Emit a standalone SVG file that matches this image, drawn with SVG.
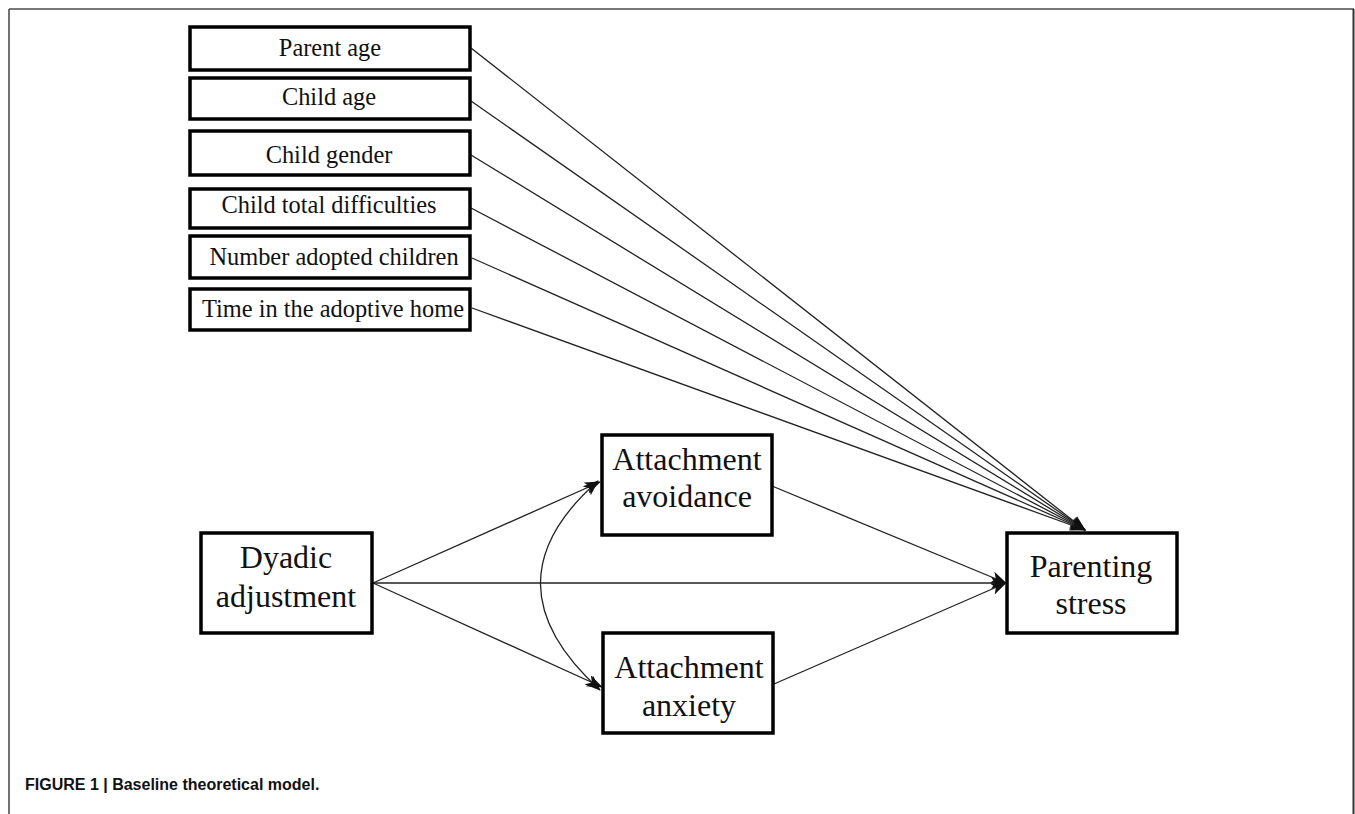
<svg xmlns="http://www.w3.org/2000/svg" width="1355" height="814" viewBox="0 0 1355 814">
<style>
.box{fill:#fff;stroke:#000;stroke-width:3.5}
.lbl{font-family:"Liberation Serif","Times New Roman",serif;fill:#111;text-anchor:middle}
.sm{font-size:24.4px}
.bg{font-size:32px}
.ln{fill:none;stroke:#222;stroke-width:1.3}
.cap{font-family:"Liberation Sans",Arial,sans-serif;font-weight:bold;font-size:16px;fill:#111}
</style>
<defs>
<marker id="ah" viewBox="0 0 16 12" refX="15" refY="6" markerWidth="16" markerHeight="12" markerUnits="userSpaceOnUse" orient="auto-start-reverse">
<path d="M0,0 L16,6 L0,12 L4,6 Z" fill="#111"/>
</marker>
</defs>
<rect x="0" y="0" width="1355" height="814" fill="#fff"/>
<g id="frame">
<line x1="9" y1="9" x2="1354" y2="9" stroke="#777" stroke-width="2"/>
<line x1="9" y1="9" x2="9" y2="814" stroke="#444" stroke-width="1.5"/>
<line x1="1353.5" y1="9" x2="1353.5" y2="814" stroke="#333" stroke-width="2"/>
</g>
<g id="connectors">
<line class="ln" x1="471" y1="48" x2="1085" y2="530" marker-end="url(#ah)"/>
<line class="ln" x1="471" y1="101" x2="1085" y2="530" marker-end="url(#ah)"/>
<line class="ln" x1="471" y1="155" x2="1085" y2="530" marker-end="url(#ah)"/>
<line class="ln" x1="471" y1="208" x2="1085" y2="530" marker-end="url(#ah)"/>
<line class="ln" x1="472" y1="258" x2="1085" y2="530" marker-end="url(#ah)"/>
<line class="ln" x1="472" y1="308" x2="1085" y2="530" marker-end="url(#ah)"/>
<line class="ln" x1="373" y1="583" x2="600" y2="482" marker-end="url(#ah)"/>
<line class="ln" x1="373" y1="583" x2="602" y2="687" marker-end="url(#ah)"/>
<line class="ln" x1="373" y1="583" x2="1006" y2="583" marker-end="url(#ah)"/>
<line class="ln" x1="772" y1="486" x2="1006" y2="583" marker-end="url(#ah)"/>
<line class="ln" x1="774" y1="684" x2="1006" y2="583" marker-end="url(#ah)"/>
<path class="ln" d="M598,481 Q482,583 600,690" marker-start="url(#ah)" marker-end="url(#ah)"/>
</g>
<g id="parent-age"><rect class="box" x="190" y="27" width="280" height="43"/><text class="lbl sm" x="330" y="56">Parent age</text></g>
<g id="child-age"><rect class="box" x="190" y="78" width="280" height="41"/><text class="lbl sm" x="329" y="105">Child age</text></g>
<g id="child-gender"><rect class="box" x="190" y="131" width="280" height="44"/><text class="lbl sm" x="329" y="163">Child gender</text></g>
<g id="child-difficulties"><rect class="box" x="190" y="189" width="280" height="39"/><text class="lbl sm" x="329" y="213">Child total difficulties</text></g>
<g id="number-adopted"><rect class="box" x="190" y="236" width="280" height="42"/><text class="lbl sm" x="334" y="265">Number adopted children</text></g>
<g id="time-home"><rect class="box" x="190" y="289" width="280" height="41"/><text class="lbl sm" x="333" y="317">Time in the adoptive home</text></g>
<g id="dyadic"><rect class="box" x="201" y="533" width="171" height="100"/><text class="lbl bg" x="286" y="568">Dyadic</text><text class="lbl bg" x="286" y="607">adjustment</text></g>
<g id="avoidance"><rect class="box" x="602" y="435" width="170" height="100"/><text class="lbl bg" x="687" y="470">Attachment</text><text class="lbl bg" x="687" y="507">avoidance</text></g>
<g id="anxiety"><rect class="box" x="603" y="633" width="170" height="100"/><text class="lbl bg" x="689" y="678">Attachment</text><text class="lbl bg" x="689" y="716">anxiety</text></g>
<g id="parenting-stress"><rect class="box" x="1007" y="533" width="170" height="100"/><text class="lbl bg" x="1091" y="577">Parenting</text><text class="lbl bg" x="1091" y="614">stress</text></g>
<text class="cap" x="25" y="790">FIGURE 1 | Baseline theoretical model.</text>
</svg>
